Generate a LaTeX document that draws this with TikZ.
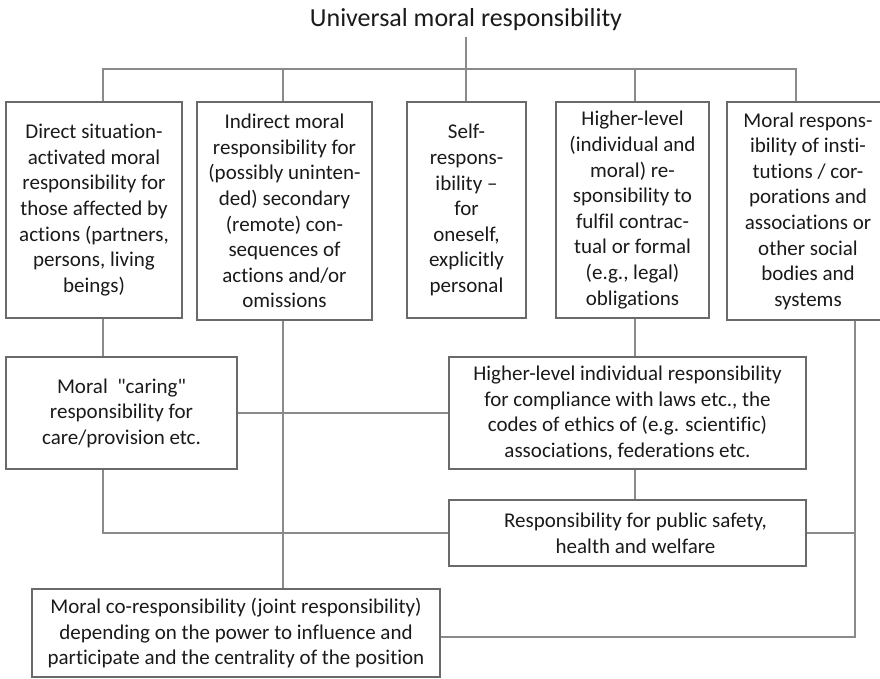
\documentclass[tikz,border=0pt]{standalone}
\usepackage{fontspec}
\setmainfont{Carlito}[Ligatures={TeXOff,NoCommon}]
\definecolor{boxgray}{HTML}{6A6A6A}
\definecolor{linkgray}{HTML}{8A8A8A}
\definecolor{textdark}{HTML}{1A1A1A}
\begin{document}
\begin{tikzpicture}[x=1pt,y=-1pt,
  box/.style={draw=boxgray, line width=1.3pt, inner sep=0pt, align=center,
    text=textdark, font=\fontsize{21}{25.6}\selectfont},
  link/.style={draw=linkgray, line width=1.2pt},
  titletext/.style={text=textdark, inner sep=0pt, font=\fontsize{26}{30}\selectfont}]
\useasboundingbox (0,0) rectangle (880,678);
\clip (0,0) rectangle (880,678);

% heading
\node[titletext, anchor=base] (title) at (466,26) {Universal moral responsibility};

% first row of responsibilities
\node[box, minimum width=176, minimum height=216] (b1) at (94,210)
  {Direct situation-\\activated moral\\responsibility for\\those affected by\\actions (partners,\\persons, living\\beings)};
\node[box, minimum width=175, minimum height=218] (b2) at (284.5,211)
  {Indirect moral\\responsibility for\\(possibly uninten-\\ded) secondary\\(remote) con-\\sequences of\\actions and/or\\omissions};
\node[box, minimum width=119, minimum height=216] (b3) at (466.5,210)
  {Self-\\respons-\\ibility \textendash\\for\\oneself,\\explicitly\\personal};
\node[box, minimum width=153, minimum height=216] (b4) at (632.5,210)
  {Higher-level\\(individual and\\moral) re-\\sponsibility to\\fulfil contrac-\\tual or formal\\(e.g., legal)\\obligations};
\node[box, minimum width=162, minimum height=218] (b5) at (808,211)
  {Moral respons-\\ibility of insti-\\tutions / cor-\\porations and\\associations or\\other social\\bodies and\\systems};

% derived responsibilities
\node[box, minimum width=231, minimum height=112] (care) at (121.5,413)
  {Moral\ \ "caring"\\responsibility for\\care/provision etc.};
\node[box, minimum width=357, minimum height=112] (indiv) at (627.5,413)
  {Higher-level individual responsibility\\for compliance with laws etc., the\\codes of ethics of (e.g. scientific)\\associations, federations etc.};
\node[box, minimum width=357, minimum height=66] (safety) at (627.5,533)
  {\hspace*{16pt}Responsibility for public safety,\\\hspace*{16pt}health and welfare};
\node[box, minimum width=408, minimum height=88] (coresp) at (236,633)
  {Moral co-responsibility (joint responsibility)\\depending on the power to influence and\\participate and the centrality of the position};

% connector columns
\coordinate (c1) at (103,69);
\coordinate (c2) at (283,69);
\coordinate (c3) at (466,69);
\coordinate (c4) at (635,69);
\coordinate (c5) at (796,69);
\coordinate (c6) at (855,637);

% tree from the heading
\draw[link] (title.south |- 0,37) -- (c3);
\draw[link] (c1 |- b1.north) -- (c1) -- (c5) -- (c5 |- b5.north);
\foreach \c/\b in {c2/b2,c3/b3,c4/b4}
  \draw[link] (\c) -- (\c |- \b.north);

% links between the boxes
\draw[link] (c1 |- b1.south) -- (c1 |- care.north);
\draw[link] (c2 |- b2.south) -- (c2 |- coresp.north);
\draw[link] (care.east) -- (indiv.west);
\draw[link] (c4 |- b4.south) -- (c4 |- indiv.north);
\draw[link] (c4 |- indiv.south) -- (c4 |- safety.north);
\draw[link] (c1 |- care.south) -- (c1 |- safety.west) -- (safety.west);
\draw[link] (safety.east) -- (safety.east -| c6);
\draw[link] (c6 |- b5.south) -- (c6) -- (c6 -| coresp.east);
\end{tikzpicture}
\end{document}
